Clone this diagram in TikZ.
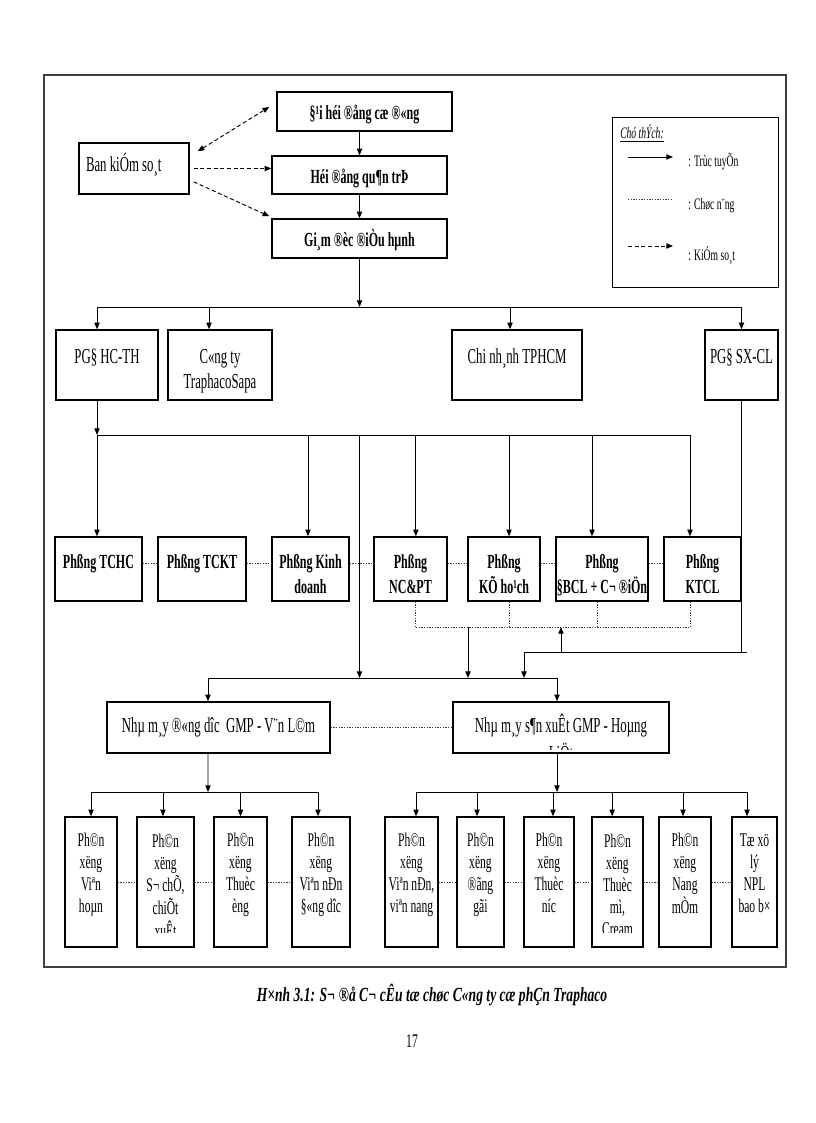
\documentclass[tikz,border=0pt]{standalone}
\usepackage{fontspec}
\setmainfont{Liberation Serif}[FakeStretch=0.6]
\newfontfamily\capfont{Liberation Serif}[FakeStretch=0.68]
\usetikzlibrary{arrows.meta}
\newcommand\fbg{\fontsize{16}{18.75}\selectfont}
\newcommand\fmd{\fontsize{15}{18.75}\selectfont}
\newcommand\fsm{\fontsize{14.5}{16.5}\selectfont}
\newcommand\flg{\fontsize{12}{14}\selectfont}
\newcommand\fcp{\fontsize{15}{17}\selectfont}
\newcommand\tl[1]{\begin{tabular}[t]{@{}c@{}}#1\end{tabular}}
\tikzset{
  >={Triangle[length=5pt,width=4pt]},
  box/.style={draw, line width=1.1pt, inner xsep=0pt, inner ysep=0pt},
  hi/.style 2 args={text height=#1pt, text depth=#2pt},
  tt/.style={line width=0.7pt},
  cn/.style={line width=0.6pt, dash pattern=on 1pt off 1pt, black!75},
  ks/.style={line width=0.7pt, dash pattern=on 3pt off 2pt},
  cut/.style n args={4}{path picture={
    \clip ([yshift=#2pt]path picture bounding box.south west) rectangle (path picture bounding box.north east);
    \node[anchor=north, inner sep=0pt, text height=0pt, yshift=-#1pt, font=#3]
      at (path picture bounding box.north) {\tl{#4}};}},
}
\begin{document}
\begin{tikzpicture}[x=0.75pt,y=-0.75pt]
  \useasboundingbox (0,0) rectangle (816,1123);
  \draw[line width=0.9pt, black!75] (44,75) rectangle (786,967);
  % top
  \node[box, font=\fmd\bfseries, minimum width=131.25pt, hi={21}{8.25}] (dhcd) at (364.5,111.5) {§¹i héi ®ång cæ ®«ng};
  \node[box, font=\fmd\bfseries, minimum width=131.25pt, hi={21}{7.5}] (hdqt) at (359.5,175) {Héi ®ång qu¶n trÞ};
  \node[box, font=\fmd\bfseries, minimum width=131.25pt, hi={21}{8.25}] (gdd) at (359.5,238.5) {Gi¸m ®èc ®iÒu hµnh};
  \node[box, font=\fbg, minimum width=82.5pt, hi={21.75}{16.5}] (bks) at (134,168.5) {\makebox[72pt][l]{Ban kiÓm so¸t}};
  \draw[tt,->] (dhcd.south -| hdqt.north) to (hdqt);
  \draw[tt,->] (hdqt) to (gdd);
  \draw[ks,<->] ([xshift=6pt,yshift=-6.75pt]bks.north east) to ([xshift=-5.25pt,yshift=3.4pt]dhcd.west);
  \draw[ks,->] ([xshift=3pt]bks.east) to (bks.east -| hdqt.west);
  \draw[ks,->] ([xshift=3pt,yshift=-10pt]bks.east) to ([xshift=-1.5pt,yshift=1.5pt]gdd.north west);
  % legend
  \node[box, line width=0.7pt, minimum width=124.5pt, minimum height=127.5pt] (lgd) at (695,202) {};
  \node[anchor=base west, font=\flg\itshape, inner sep=0pt] (lgt) at (620,139) {\underline{Chó thÝch:}};
  \node[anchor=west, font=\flg, inner sep=0pt] (l1) at (688,162) {: Trùc tuyÕn};
  \node[anchor=west, font=\flg, inner sep=0pt] (l2) at (688,206) {: Chøc n¨ng};
  \node[anchor=west, font=\flg, inner sep=0pt] (l3) at (688,255) {: KiÓm so¸t};
  \draw[tt,->] ([xshift=-45pt,yshift=3.75pt]l1.west) to ([xshift=-11.25pt,yshift=3.75pt]l1.west);
  \draw[cn] ([xshift=-45pt,yshift=5.25pt]l2.west) to ([xshift=-11.25pt,yshift=5.25pt]l2.west);
  \draw[ks,->] ([xshift=-45pt,yshift=6.75pt]l3.west) to ([xshift=-11.25pt,yshift=6.75pt]l3.west);
  % second row
  \node[box, font=\fbg, minimum width=76.5pt, hi={24.75}{27.75}] (pgdhc) at (107,365) {PG§ HC-TH};
  \node[box, font=\fbg, minimum width=78pt, hi={24.75}{27.75}] (ctts) at (220,365) {\tl{C«ng ty\\TraphacoSapa}};
  \node[box, font=\fbg, minimum width=97.5pt, hi={24.75}{27.75}] (cn) at (517,365) {Chi nh¸nh TPHCM};
  \node[box, font=\fbg, minimum width=54.75pt, hi={24.75}{27.75}] (pgdsx) at (741.5,365) {PG§ SX-CL};
  \coordinate (bus1) at (359.5,307);
  \draw[tt,->] (gdd) to (bus1);
  \foreach \n/\s in {pgdhc/-7.5, ctts/-8.25, cn/-5.25, pgdsx/0}
    \draw[tt,->] (bus1) -| ([xshift=\s pt]\n.north);
  % phong
  \node[box, font=\fmd\bfseries, minimum width=65.25pt, hi={23.25}{24.75}] (tchc) at (98.5,569) {Phßng TCHC};
  \node[box, font=\fmd\bfseries, minimum width=66pt, hi={23.25}{24.75}] (tckt) at (202,569) {Phßng TCKT};
  \node[box, font=\fmd\bfseries, minimum width=57.75pt, hi={23.25}{24.75}] (kd) at (310.5,569) {\tl{Phßng Kinh\\doanh}};
  \node[box, font=\fmd\bfseries, minimum width=54.75pt, hi={23.25}{24.75}] (nc) at (410.5,569) {\tl{Phßng\\NC\&PT}};
  \node[box, font=\fmd\bfseries, minimum width=54pt, hi={23.25}{24.75}] (kh) at (504,569) {\tl{Phßng\\KÕ ho¹ch}};
  \node[box, font=\fmd\bfseries, minimum width=69pt, hi={23.25}{24.75}] (dbcl) at (602,569) {\tl{Phßng\\§BCL + C¬ ®iÖn}};
  \node[box, font=\fmd\bfseries, minimum width=57.75pt, hi={23.25}{24.75}] (ktcl) at (702.5,569) {\tl{Phßng\\KTCL}};
  \coordinate (bus2) at (97,435);
  \draw[tt,->] ([xshift=-7.5pt]pgdhc.south) to (bus2);
  \draw[tt,->] (bus2) to (bus2 |- tchc.north);
  \foreach \n/\s in {kd/-1.9, nc/4, kh/3.75, dbcl/-7.5, ktcl/-9.4}
    \draw[tt,->] (bus2) -| ([xshift=\s pt]\n.north);
  \foreach \a/\b in {tchc/tckt, tckt/kd, kd/nc, nc/kh, kh/dbcl, dbcl/ktcl}
    \draw[cn] ([yshift=4.5pt]\a.east) to ([yshift=4.5pt]\b.west);
  \foreach \n/\s in {nc/4, kh/3.75, dbcl/-3.75, ktcl/-9.4}
    \draw[cn] ([xshift=\s pt]\n.south) to ++(0,26);
  \draw[cn] ([xshift=4pt,yshift=-19.5pt]nc.south) to ([xshift=-9.4pt,yshift=-19.5pt]ktcl.south);
  % nha may
  \node[box, font=\fbg, minimum width=167.25pt, hi={22.5}{15.75}] (nmdd) at (218.5,727.5) {Nhµ m¸y ®«ng dîc\ \ GMP - V¨n L©m};
  \node[box, minimum width=162pt, hi={22.5}{15.75}, cut={22.5}{3}{\fbg}{Nhµ m¸y s¶n xuÊt GMP - Hoµng\\[2pt]LiÖt}] (nmsx) at (561,727.5) {};
  \draw[cn] (nmdd) to (nmsx);
  \coordinate (bus3) at (359.5,678);
  \draw[tt,->] (bus2 -| bus3) to (bus3);
  \draw[tt,->] (bus3) -| ([xshift=-7.9pt]nmdd.north);
  \draw[tt,->] (bus3) -| ([xshift=-3pt]nmsx.north);
  \coordinate (dn) at (468,627);
  \draw[tt,->] (dn) to (dn |- bus3);
  \coordinate (sx) at (747,652);
  \coordinate (sxl) at (524,678);
  \draw[tt] (pgdsx.south) |- (sx);
  \draw[tt,->] (sx) -| (sxl);
  \coordinate (up) at (561,652);
  \draw[tt,->] (up) to (up |- dn);
  % phan xuong
  \node[box, font=\fsm, minimum width=39pt, hi={22}{75.5}] (b1) at (91,882) {\tl{Ph©n\\xëng\\Viªn\\hoµn}};
  \node[box, minimum width=42.75pt, hi={22}{75.5}, cut={22}{11}{\fsm}{Ph©n\\xëng\\S¬ chÕ,\\chiÕt\\xuÊt}] (b2) at (165.5,882) {};
  \node[box, font=\fsm, minimum width=39.75pt, hi={22}{75.5}] (b3) at (240.5,882) {\tl{Ph©n\\xëng\\Thuèc\\èng}};
  \node[box, font=\fsm, minimum width=43.5pt, hi={22}{75.5}] (b4) at (321,882) {\tl{Ph©n\\xëng\\Viªn nÐn\\§«ng dîc}};
  \node[box, font=\fsm, minimum width=39.75pt, hi={22}{75.5}] (r1) at (411.5,882) {\tl{Ph©n\\xëng\\Viªn nÐn,\\viªn nang}};
  \node[box, font=\fsm, minimum width=35.25pt, hi={22}{75.5}] (r2) at (480.5,882) {\tl{Ph©n\\xëng\\®ãng\\gãi}};
  \node[box, font=\fsm, minimum width=37.5pt, hi={22}{75.5}] (r3) at (549,882) {\tl{Ph©n\\xëng\\Thuèc\\níc}};
  \node[box, minimum width=38.25pt, hi={22}{75.5}, cut={22}{11}{\fsm}{Ph©n\\xëng\\Thuèc\\mì,\\Cream}] (r4) at (617.5,882) {};
  \node[box, font=\fsm, minimum width=39pt, hi={22}{75.5}] (r5) at (685,882) {\tl{Ph©n\\xëng\\Nang\\mÒm}};
  \node[box, font=\fsm, minimum width=33.75pt, hi={22}{75.5}] (r6) at (754.5,882) {\tl{Tæ xö\\lý\\NPL\\bao b×}};
  \coordinate (bus5) at (208,792);
  \draw[tt,->] ([xshift=-7.9pt]nmdd.south) to (bus5);
  \foreach \n/\s in {b1/0, b2/-1.9, b3/0, b4/-2.25}
    \draw[tt,->] (bus5) -| ([xshift=\s pt]\n.north);
  \coordinate (bus6) at (557,792);
  \draw[tt,->] ([xshift=-3pt]nmsx.south) to (bus6);
  \foreach \n/\s in {r1/3.4, r2/-2.6, r3/3, r4/-4, r5/-1.5, r6/-5.6}
    \draw[tt,->] (bus6) -| ([xshift=\s pt]\n.north);
  \foreach \a/\b in {b1/b2, b2/b3, b3/b4, r1/r2, r2/r3, r3/r4, r4/r5, r5/r6}
    \draw[cn] (\a) to (\b);
  % caption
  \node[font=\capfont\fcp\bfseries\itshape] (cap) at (432,995) {H×nh 3.1: S¬ ®å C¬ cÊu tæ chøc C«ng ty cæ phÇn Traphaco};
  \node[font=\fsm] (pg) at (412,1041) {17};
\end{tikzpicture}
\end{document}
